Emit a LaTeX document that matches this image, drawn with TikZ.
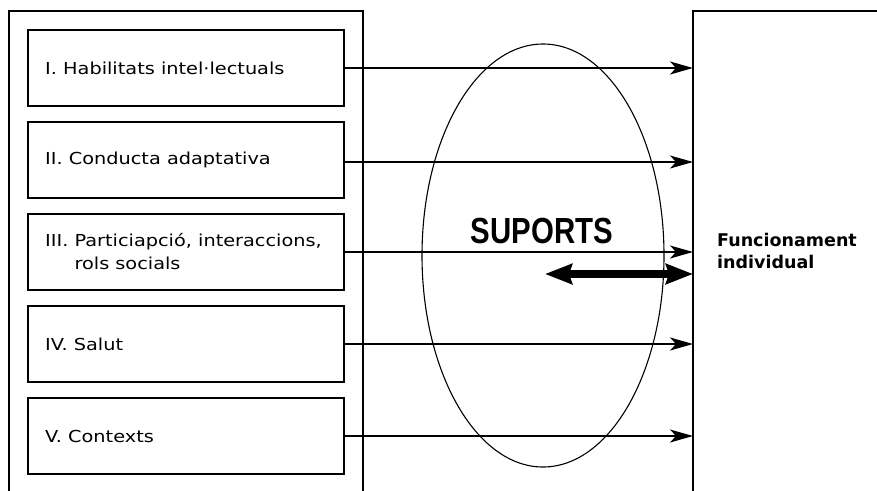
\documentclass[tikz,border=0pt]{standalone}
\usepackage{fontspec}
\usepackage{graphicx}
\setmainfont{DejaVu Sans}[FakeStretch=1.17]
\newfontfamily\funcfont{DejaVu Sans}
\newfontfamily\supfont{Liberation Sans}[FakeStretch=0.81]
\usetikzlibrary{arrows.meta,shapes.geometric}
\tikzset{
  dimbox/.style={draw=black, line width=1.1pt, minimum width=316pt, minimum height=76pt, inner sep=0pt, outer sep=0pt},
  frame/.style={draw=black, line width=1.1pt, inner sep=0pt, outer sep=0pt, anchor=north west},
  boxtext/.style={anchor=west, inner sep=0pt, align=left, font=\fontsize{16.5}{23}\selectfont},
  arr/.style={line width=1.1pt, -{Stealth[length=23pt, width=13pt, inset=6pt]}},
  dbl/.style={line width=8pt, {Stealth[length=27pt, width=20pt, inset=3pt]}-{Stealth[length=27pt, width=20pt, inset=3pt]}},
}
\begin{document}
\begin{tikzpicture}[x=1pt, y=-1pt]
\useasboundingbox (0,0) rectangle (877,490);
\clip (0,0) rectangle (877,490);
% outer frames (cropped at the picture edge)
\node[frame, minimum width=354pt, minimum height=600pt] (dims) at (9,11) {};
\node[frame, minimum width=300pt, minimum height=600pt] (func) at (693,11) {};
% dimension boxes
\node[dimbox] (b1) at (186,68) {};
\node[dimbox] (b2) at (186,160) {};
\node[dimbox] (b3) at (186,252) {};
\node[dimbox] (b4) at (186,344) {};
\node[dimbox] (b5) at (186,436) {};
\node[boxtext] (t1) at ([xshift=17pt]b1.west) {I. Habilitats intel·lectuals};
\node[boxtext] (t2) at ([xshift=17pt]b2.west) {II. Conducta adaptativa};
\node[boxtext] (t3) at ([xshift=17pt]b3.west) {III. Particiapció, interaccions,\\\phantom{III. }rols socials};
\node[boxtext] (t4) at ([xshift=17pt]b4.west) {IV. Salut};
\node[boxtext] (t5) at ([xshift=17pt]b5.west) {V. Contexts};
% supports ellipse
\node[draw=black, line width=1.1pt, ellipse, minimum width=242pt, minimum height=423pt, inner sep=0pt, outer sep=0pt] (sup) at (543,255.5) {};
\node[inner sep=0pt, font=\supfont\bfseries\fontsize{36.3}{40}\selectfont] (suplabel) at (542,230.5) {SUPORTS};
% arrows
\draw[arr] (b1.east) -- (b1.east -| func.west);
\draw[arr] ([yshift=-2pt]b2.east) -- ([yshift=-2pt]b2.east -| func.west);
\draw[arr] (b3.east) -- (b3.east -| func.west);
\draw[arr] (b4.east) -- (b4.east -| func.west);
\draw[arr] (b5.east) -- (b5.east -| func.west);
\coordinate (dstart) at (545,274);
\draw[dbl] (dstart) -- (dstart -| func.west);
% functioning label
\node[anchor=west, inner sep=0pt, align=left, font=\funcfont\bfseries\fontsize{17.5}{22}\selectfont] (funclabel) at (717,251) {Funcionament\\individual};
\end{tikzpicture}
\end{document}
